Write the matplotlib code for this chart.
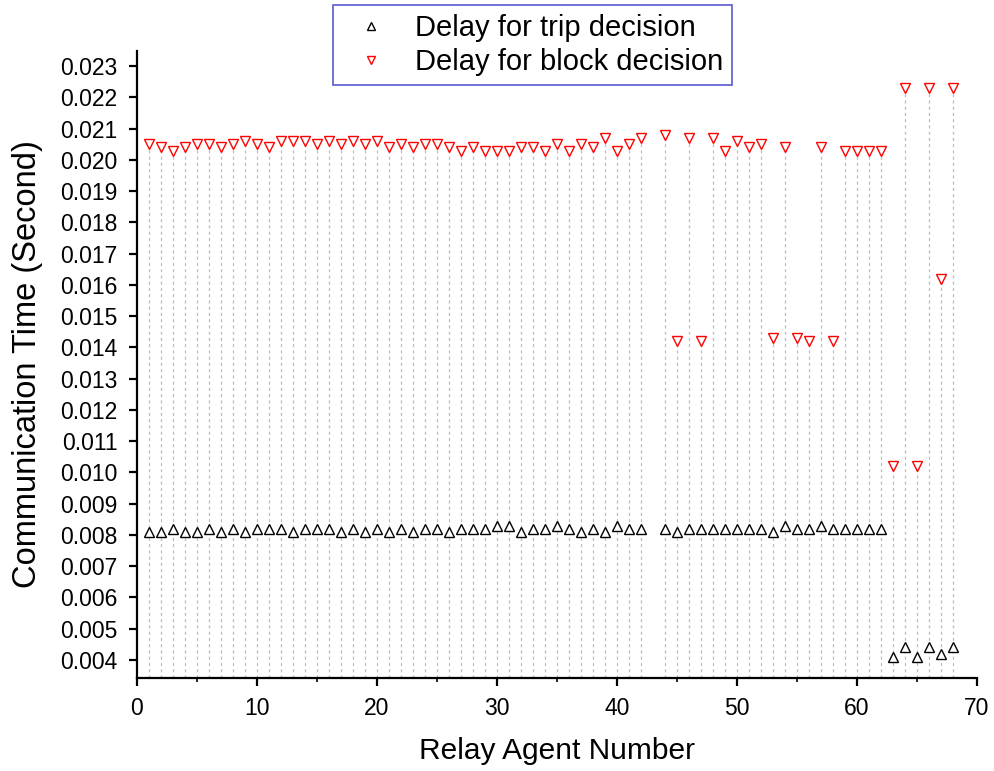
import matplotlib
matplotlib.use("Agg")
import matplotlib.pyplot as plt
from matplotlib.ticker import MultipleLocator, FormatStrFormatter

plt.rcParams['font.family'] = ['Liberation Sans', 'DejaVu Sans']

relay_ids = [i for i in range(1, 69) if i != 43]

trip_delay = [
    0.0081, 0.0081, 0.0082, 0.0081, 0.0081, 0.0082, 0.0081, 0.0082, 0.0081, 0.0082,
    0.0082, 0.0082, 0.0081, 0.0082, 0.0082, 0.0082, 0.0081, 0.0082, 0.0081, 0.0082,
    0.0081, 0.0082, 0.0081, 0.0082, 0.0082, 0.0081, 0.0082, 0.0082, 0.0082, 0.0083,
    0.0083, 0.0081, 0.0082, 0.0082, 0.0083, 0.0082, 0.0081, 0.0082, 0.0081, 0.0083,
    0.0082, 0.0082,
    0.0082, 0.0081, 0.0082, 0.0082, 0.0082, 0.0082, 0.0082, 0.0082, 0.0082, 0.0081,
    0.0083, 0.0082, 0.0082, 0.0083, 0.0082, 0.0082, 0.0082, 0.0082, 0.0082,
    0.0041, 0.0044, 0.0041, 0.0044, 0.0042, 0.0044,
]

block_delay = [
    0.0205, 0.0204, 0.0203, 0.0204, 0.0205, 0.0205, 0.0204, 0.0205, 0.0206, 0.0205,
    0.0204, 0.0206, 0.0206, 0.0206, 0.0205, 0.0206, 0.0205, 0.0206, 0.0205, 0.0206,
    0.0204, 0.0205, 0.0204, 0.0205, 0.0205, 0.0204, 0.0203, 0.0204, 0.0203, 0.0203,
    0.0203, 0.0204, 0.0204, 0.0203, 0.0205, 0.0203, 0.0205, 0.0204, 0.0207, 0.0203,
    0.0205, 0.0207,
    0.0208, 0.0142, 0.0207, 0.0142, 0.0207, 0.0203, 0.0206, 0.0204, 0.0205, 0.0143,
    0.0204, 0.0143, 0.0142, 0.0204, 0.0142, 0.0203, 0.0203, 0.0203, 0.0203,
    0.0102, 0.0223, 0.0102, 0.0223, 0.0162, 0.0223,
]

y_min, y_max = 0.00342, 0.0235

fig = plt.figure(figsize=(9.94, 7.71), dpi=100)
ax = fig.add_axes([0.1378, 0.1206, 0.845, 0.8138])

ax.vlines(relay_ids, y_min, block_delay, colors='#bdbdbd', linestyles=(0, (2.5, 2.5)),
          linewidth=0.9, zorder=1)

ax.plot(relay_ids, trip_delay, linestyle='none', marker='^', markersize=6.5,
        markerfacecolor='white', markeredgecolor='black', markeredgewidth=1.0,
        label='Delay for trip decision', zorder=3)
ax.plot(relay_ids, block_delay, linestyle='none', marker='v', markersize=6.5,
        markerfacecolor='white', markeredgecolor='red', markeredgewidth=1.0,
        label='Delay for block decision', zorder=3)

ax.set_xlim(0, 70)
ax.set_ylim(y_min, y_max)
ax.xaxis.set_major_locator(MultipleLocator(10))
ax.xaxis.set_minor_locator(MultipleLocator(5))
ax.yaxis.set_major_locator(MultipleLocator(0.001))
ax.yaxis.set_major_formatter(FormatStrFormatter('%.3f'))

for s in ['top', 'right']:
    ax.spines[s].set_visible(False)
for s in ['left', 'bottom']:
    ax.spines[s].set_linewidth(1.6)

ax.tick_params(axis='both', which='major', direction='out', length=6, width=1.6,
               labelsize=16.5, pad=8)
ax.tick_params(axis='x', which='minor', direction='out', length=3, width=1.2)

ax.set_xlabel('Relay Agent Number', fontsize=21.5, labelpad=12)
ax.set_ylabel('Communication Time (Second)', fontsize=23.5, labelpad=12)

leg = fig.legend(loc='upper left', bbox_to_anchor=(333 / 994, 1 - 5 / 771),
                 fontsize=21, frameon=True, fancybox=False, markerscale=0.8,
                 handletextpad=0.5, borderpad=0.3, labelspacing=0.22,
                 handlelength=2.0, borderaxespad=0)
leg.get_frame().set_edgecolor('#3030c0')
leg.get_frame().set_linewidth(1.2)

fig.savefig('out.png', dpi=100)
